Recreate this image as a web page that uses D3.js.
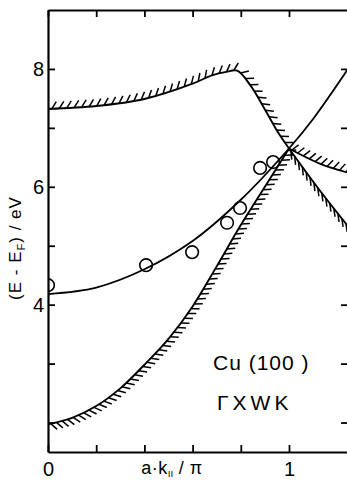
<!DOCTYPE html>
<html lang="en">
<head>
    <meta charset="UTF-8">
    <title>Cu(100) GXWK</title>
    <script src="https://cdnjs.cloudflare.com/ajax/libs/d3/7.8.5/d3.min.js"></script>
    <style>
        body { margin: 0; background: #fff; }
        svg { display: block; font-family: "Liberation Sans", Arial, sans-serif; }
    </style>
</head>
<body>
<svg width="347" height="482"></svg>

<script>
    // a*k/pi and (E - EF) in eV
    const parabolaK = [0, 0.2, 0.4, 0.6, 0.8, 1.0, 1.1, 1.245];
    const parabolaE = [4.18, 4.29, 4.6, 5.08, 5.78, 6.65, 7.15, 8.0];

    const upperLeftK = [0, 0.2, 0.4, 0.6, 0.68, 0.74, 0.785, 0.84, 0.91, 0.955, 1.0];
    const upperLeftE = [7.32, 7.37, 7.49, 7.75, 7.89, 7.95, 7.97, 7.72, 7.24, 6.92, 6.65];
    const upperRightK = [1.0, 1.13, 1.245];
    const upperRightE = [6.65, 6.39, 6.24];

    const lowerLeftK = [0, 0.1, 0.2, 0.3, 0.4, 0.5, 0.6, 0.7, 0.8, 0.9, 1.0];
    const lowerLeftE = [1.97, 2.08, 2.28, 2.58, 2.98, 3.42, 3.97, 4.65, 5.35, 6.0, 6.65];
    const lowerRightK = [1.0, 1.12, 1.245];
    const lowerRightE = [6.65, 5.98, 5.33];

    const dataK = [0, 0.407, 0.598, 0.743, 0.797, 0.88, 0.934];
    const dataE = [4.33, 4.67, 4.89, 5.39, 5.64, 6.32, 6.42];

    const xTicks = [0, 0.2, 0.4, 0.6, 0.8, 1.0];
    const xLabels = [0, 1];
    const yTicks = [2, 3, 4, 5, 6, 7, 8];
    const yLabels = [4, 6, 8];

    const svg = d3.select("svg");
    const x = d3.scaleLinear().domain([0, 1]).range([48, 289]);
    const y = d3.scaleLinear().domain([1.5, 9]).range([452, 10]);
    const kMax = 1.245;

    svg.append("clipPath").attr("id", "plot")
        .append("rect")
        .attr("x", x(0)).attr("y", y(9))
        .attr("width", x(kMax) - x(0)).attr("height", y(1.5) - y(9));

    const line = d3.line()
        .x(d => x(d[0]))
        .y(d => y(d[1]))
        .curve(d3.curveCatmullRom.alpha(0.5));

    const plot = svg.append("g").attr("clip-path", "url(#plot)");

    // side 1 = hatch above the curve, -1 = below; ang tilts hatch toward the running direction
    const bands = [
        {k: upperLeftK, e: upperLeftE, side: 1, step: 7.5, ang: 35},
        {k: upperRightK, e: upperRightE, side: 1, step: 6.5, ang: 25},
        {k: lowerLeftK, e: lowerLeftE, side: -1, step: 5.8, ang: 35},
        {k: lowerRightK, e: lowerRightE, side: -1, step: 6.5, ang: 60}
    ];

    bands.forEach(b => {
        const pts = b.k.map((k, i) => [k, b.e[i]]);
        const p = plot.append("path")
            .attr("d", line(pts))
            .attr("fill", "none")
            .attr("stroke", "#000")
            .attr("stroke-width", 1.9);
        const node = p.node();
        const total = node.getTotalLength();
        const a = b.ang * Math.PI / 180;
        const hatches = [];
        for (let s = b.step / 2; s < total; s += b.step) {
            const p0 = node.getPointAtLength(Math.max(0, s - 1));
            const p1 = node.getPointAtLength(Math.min(total, s + 1));
            const c = node.getPointAtLength(s);
            let tx = p1.x - p0.x, ty = p1.y - p0.y;
            const m = Math.hypot(tx, ty);
            tx /= m; ty /= m;
            const nx = b.side * ty, ny = -b.side * tx;
            const dx = Math.cos(a) * nx + Math.sin(a) * tx;
            const dy = Math.cos(a) * ny + Math.sin(a) * ty;
            hatches.push([c.x, c.y, c.x + dx * 8.5, c.y + dy * 8.5]);
        }
        plot.append("g")
            .selectAll("line")
            .data(hatches)
            .enter()
            .append("line")
            .attr("x1", d => d[0]).attr("y1", d => d[1])
            .attr("x2", d => d[2]).attr("y2", d => d[3])
            .attr("stroke", "#000")
            .attr("stroke-width", 1.5);
    });

    plot.append("path")
        .attr("d", line(parabolaK.map((k, i) => [k, parabolaE[i]])))
        .attr("fill", "none")
        .attr("stroke", "#000")
        .attr("stroke-width", 1.8);

    plot.append("g")
        .selectAll("circle")
        .data(dataK.map((k, i) => [k, dataE[i]]))
        .enter()
        .append("circle")
        .attr("cx", d => x(d[0]))
        .attr("cy", d => y(d[1]))
        .attr("r", 6.3)
        .attr("fill", "none")
        .attr("stroke", "#000")
        .attr("stroke-width", 1.6);

    // frame with inward ticks
    const xr = d3.scaleLinear().domain([0, kMax]).range([x(0), x(kMax)]);
    const axes = [
        svg.append("g").attr("transform", `translate(0,${y(1.5)})`)
            .call(d3.axisBottom(xr).tickValues(xTicks).tickSize(-7).tickSizeOuter(0).tickPadding(10)
                .tickFormat(d => xLabels.includes(d) ? d : "")),
        svg.append("g").attr("transform", `translate(0,${y(9)})`)
            .call(d3.axisTop(xr).tickValues(xTicks).tickSize(-7).tickSizeOuter(0).tickFormat("")),
        svg.append("g").attr("transform", `translate(${x(0)},0)`)
            .call(d3.axisLeft(y).tickValues(yTicks).tickSize(-7).tickSizeOuter(0).tickPadding(4)
                .tickFormat(d => yLabels.includes(d) ? d : "")),
        svg.append("g").attr("transform", `translate(${x(kMax)},0)`)
            .call(d3.axisRight(y).tickValues(yTicks).tickSize(-7).tickSizeOuter(0).tickFormat(""))
    ];
    axes.forEach(g => {
        g.attr("font-family", null).attr("font-size", null);
        g.select(".domain").attr("stroke-width", 2.2);
        g.selectAll(".tick line").attr("stroke-width", 1.8);
        g.selectAll(".tick text").attr("font-size", 20).attr("fill", "#000");
    });

    // axis titles
    const xt = svg.append("text")
        .attr("x", 172).attr("y", 474)
        .attr("text-anchor", "middle")
        .attr("font-size", 18)
        .attr("fill", "#000")
        .attr("letter-spacing", 0.5);
    xt.append("tspan").text("a\u00b7k");
    xt.append("tspan")
        .attr("font-size", 10).attr("dy", 3)
        .attr("letter-spacing", 0)
        .text("\u0131\u0131");
    xt.append("tspan").attr("dy", -3).text(" / \u03c0");

    const yt = svg.append("text")
        .attr("transform", "translate(21,248) rotate(-90)")
        .attr("text-anchor", "middle")
        .attr("font-size", 17)
        .attr("letter-spacing", 1);
    yt.append("tspan").text("(E - E");
    yt.append("tspan").attr("font-size", 11).attr("dy", 4).text("F");
    yt.append("tspan").attr("dy", -4).text(") / eV");

    svg.append("text")
        .attr("x", 213).attr("y", 370)
        .attr("font-size", 21)
        .attr("letter-spacing", 1)
        .text("Cu (100 )");

    svg.append("text")
        .attr("x", 217).attr("y", 410)
        .attr("font-size", 21)
        .attr("letter-spacing", 4)
        .text("\u0393XWK");
</script>
</body>
</html>
